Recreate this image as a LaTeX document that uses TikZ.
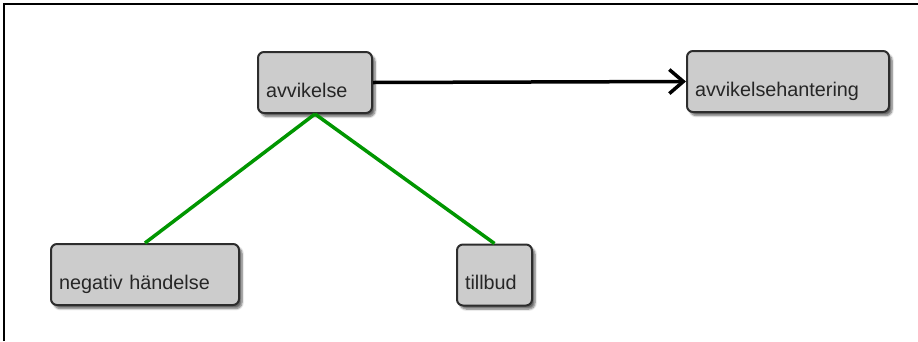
\documentclass[tikz,border=0pt]{standalone}
\usepackage{fontspec}
\setmainfont{Liberation Sans}
\usepackage{tikz}
\usetikzlibrary{arrows.meta}
\usetikzlibrary{positioning}
\usetikzlibrary{shadows.blur}
\definecolor{boxgray}{RGB}{204,204,204}
\definecolor{boxline}{RGB}{45,45,45}
\definecolor{linkgreen}{RGB}{0,150,0}
\tikzset{
	conceptbox/.style={draw=boxline, fill=boxgray, rounded corners=6pt, line width=2pt,
		inner xsep=8pt, inner ysep=0pt, text height=45pt, text depth=16pt, align=left,
		font=\fontsize{19.8}{24}\selectfont, text=black!85,
		blur shadow={shadow xshift=3pt, shadow yshift=-3.5pt, shadow blur steps=6, shadow opacity=60}},
	greenlink/.style={draw=linkgreen, line width=3.5pt},
	blacklink/.style={draw=black, line width=3.5pt, -{Straight Barb[length=14pt,width=24pt,line width=3.5pt]}}
}

\begin{document}
\begin{tikzpicture}[x=1pt,y=-1pt]
	\useasboundingbox (0,0) rectangle (918,341);
	% frame
	\draw[line width=2pt] (3.5,341) -- (3.5,3.5) -- (918,3.5);
	% concepts
	\node[conceptbox, text width=98pt] (avv) at (315,82.5) {avvikelse};
	\node[conceptbox, text width=186pt] (hant) at (788,81.5) {avvikelsehantering};
	\node[conceptbox, text width=172pt] (neg) at (145,274.5) {negativ händelse};
	\node[conceptbox, text width=59pt] (till) at (494.5,275) {tillbud};
	% links
	\draw[greenlink] (avv.south) -- (neg.north);
	\draw[greenlink] (avv.south) -- (till.north);
	\draw[blacklink] (avv.east) -- (hant.west);
\end{tikzpicture}
\end{document}
